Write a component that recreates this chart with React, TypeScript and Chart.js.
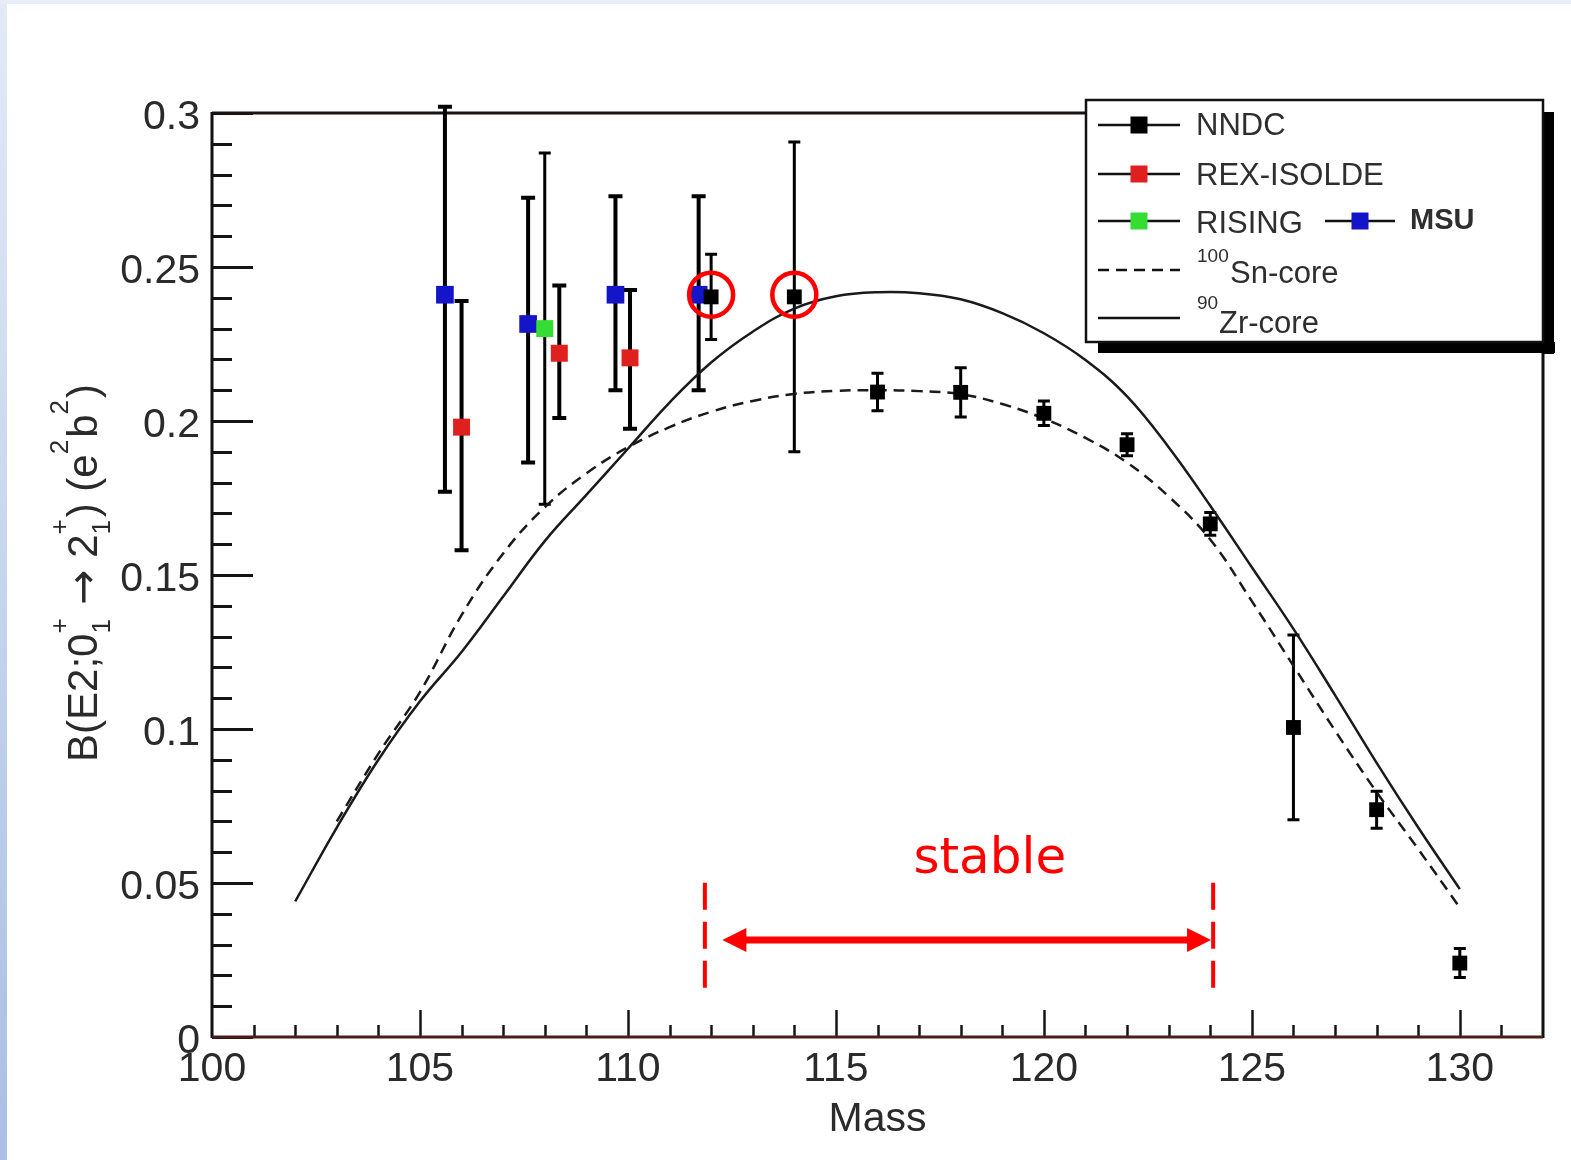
import React, { useEffect, useRef } from 'react';
import { Chart, registerables } from 'chart.js';

Chart.register(...registerables);

const FONT = '"Liberation Sans", Arial, Helvetica, sans-serif';

// ---- axes ----
const xTicks = [100, 105, 110, 115, 120, 125, 130];
const yTicks = [0, 0.05, 0.1, 0.15, 0.2, 0.25, 0.3];
const xMin = 100;
const xMax = 132;
const yMin = 0;
const yMax = 0.3;
const xMinorStep = 1;
const yMinorStep = 0.01;

// ---- NNDC ----
const nndcMass = [112, 114, 116, 118, 120, 122, 124, 126, 128, 130];
const nndcB = [0.2403, 0.2403, 0.2094, 0.2093, 0.2025, 0.1923, 0.1666, 0.1005, 0.0738, 0.024];
const nndcErr = [0.0138, 0.0503, 0.0061, 0.008, 0.004, 0.0036, 0.0037, 0.03, 0.006, 0.0047];

// ---- REX-ISOLDE ----
const rexMass = [106.0, 108.35, 110.05];
const rexB = [0.198, 0.222, 0.2205];
const rexErrPlus = [0.041, 0.022, 0.022];
const rexErrMinus = [0.04, 0.021, 0.023];

// ---- RISING ----
const risingMass = [108.0];
const risingB = [0.23];
const risingErrPlus = [0.057];
const risingErrMinus = [0.057];

// ---- MSU ----
const msuMass = [105.6, 107.6, 109.7, 111.7];
const msuB = [0.241, 0.2315, 0.241, 0.241];
const msuErrPlus = [0.061, 0.041, 0.032, 0.032];
const msuErrMinus = [0.064, 0.045, 0.031, 0.031];

// ---- 90Zr-core calculation (solid) ----
const zrMass = [102, 103, 104, 105, 106, 107, 108, 109, 110, 111, 112, 113, 114, 115, 116, 117, 118, 119, 120, 121, 122, 123, 124, 125, 126, 127, 128, 129, 130];
const zrCore = [0.044, 0.068, 0.09, 0.109, 0.125, 0.143, 0.161, 0.176, 0.191, 0.206, 0.219, 0.229, 0.2365, 0.2405, 0.2418, 0.2415, 0.2395, 0.235, 0.2285, 0.2198, 0.208, 0.1915, 0.1725, 0.1525, 0.1325, 0.111, 0.089, 0.068, 0.048];

// ---- 100Sn-core calculation (dashed) ----
const snMass = [103, 104, 105, 106, 107, 108, 109, 110, 111, 112, 113, 114, 115, 116, 117, 118, 119, 120, 121, 122, 123, 124, 125, 126, 127, 128, 129, 130];
const snCore = [0.07, 0.092, 0.112, 0.137, 0.157, 0.172, 0.183, 0.1915, 0.198, 0.203, 0.2065, 0.2088, 0.2098, 0.21, 0.2097, 0.2087, 0.2055, 0.2008, 0.1945, 0.1865, 0.1755, 0.1615, 0.1415, 0.1205, 0.0995, 0.0795, 0.061, 0.042];

// ---- annotations ----
const circleMass = [112, 114];
const circleB = [0.241, 0.241];
const stableEdges = [111.85, 124.07];
const stableEdgeB = [0.016, 0.051];
const arrowMass = [112.27, 124.02];
const arrowB = 0.0315;
const stableLabel = 'stable';
const stableLabelPos = [118.7, 0.0575];

const pts = (xs: number[], ys: number[]) => xs.map((x, i) => ({ x, y: ys[i] }));

function drawScriptText(ctx: CanvasRenderingContext2D, parts: any[], size: number, measureOnly: boolean, x0: number, y0: number) {
  const small = `${Math.round(size * 0.62)}px ${FONT}`;
  let x = x0;
  for (const p of parts) {
    if (p.t !== undefined) {
      ctx.font = `${size}px ${p.f ? p.f : FONT}`;
      if (!measureOnly) ctx.fillText(p.t, x, y0);
      x += ctx.measureText(p.t).width;
    } else {
      ctx.font = small;
      let w = 0;
      if (p.sup) {
        if (!measureOnly) ctx.fillText(p.sup, x, y0 - size * 0.7);
        w = Math.max(w, ctx.measureText(p.sup).width);
      }
      if (p.sub) {
        if (!measureOnly) ctx.fillText(p.sub, x, y0 + size * 0.3);
        w = Math.max(w, ctx.measureText(p.sub).width);
      }
      x += w + 2;
    }
  }
  return x - x0;
}

const yTitleParts = [
  { t: 'B(E2;0' }, { sub: '1', sup: '+' }, { t: ' ' }, { t: '\u2192', f: '"DejaVu Sans", sans-serif' }, { t: ' 2' }, { sub: '1', sup: '+' },
  { t: ') (e' }, { sup: '2' }, { t: 'b' }, { sup: '2' }, { t: ')' },
];

const rootPlugin = {
  id: 'rootStyle',
  beforeDatasetsDraw(chart: any) {
    const { ctx, chartArea: a, scales } = chart;
    const xs = scales.x;
    const ys = scales.y;
    ctx.save();
    // minor/major ticks on the left axis (pointing inward)
    ctx.strokeStyle = '#141414';
    ctx.lineWidth = 3;
    const nY = Math.round((yMax - yMin) / yMinorStep);
    for (let k = 0; k <= nY; k++) {
      const py = Math.round(ys.getPixelForValue(yMin + k * yMinorStep)) + 0.5;
      const len = k % 5 === 0 ? 41 : 20;
      ctx.beginPath(); ctx.moveTo(a.left, py); ctx.lineTo(a.left + len, py); ctx.stroke();
    }
    // ticks on the bottom axis
    ctx.lineWidth = 2.5;
    for (let m = xMin + xMinorStep; m < xMax; m += xMinorStep) {
      const px = Math.round(xs.getPixelForValue(m)) + 0.5;
      const len = m % 5 === 0 ? 27 : 12;
      ctx.beginPath(); ctx.moveTo(px, a.bottom); ctx.lineTo(px, a.bottom - len); ctx.stroke();
    }
    // frame
    ctx.lineWidth = 3;
    ctx.strokeStyle = '#1c1212';
    ctx.beginPath(); ctx.moveTo(a.left, a.top); ctx.lineTo(a.right, a.top); ctx.stroke();
    ctx.strokeStyle = '#111';
    ctx.beginPath(); ctx.moveTo(a.left, a.top - 1); ctx.lineTo(a.left, a.bottom + 1); ctx.stroke();
    ctx.beginPath(); ctx.moveTo(a.right, a.top - 1); ctx.lineTo(a.right, a.bottom + 1); ctx.stroke();
    ctx.strokeStyle = '#4a1c1c';
    ctx.beginPath(); ctx.moveTo(a.left, a.bottom); ctx.lineTo(a.right, a.bottom); ctx.stroke();

    // error bars
    chart.data.datasets.forEach((ds: any) => {
      if (!ds.errPlus) return;
      ctx.strokeStyle = '#000';
      ctx.lineWidth = ds.errWidth;
      ds.data.forEach((p: any, i: number) => {
        const px = xs.getPixelForValue(p.x);
        const top = ys.getPixelForValue(p.y + ds.errPlus[i]);
        const bot = ys.getPixelForValue(p.y - ds.errMinus[i]);
        ctx.beginPath();
        ctx.moveTo(px, top); ctx.lineTo(px, bot);
        ctx.moveTo(px - ds.capHalf, top); ctx.lineTo(px + ds.capHalf, top);
        ctx.moveTo(px - ds.capHalf, bot); ctx.lineTo(px + ds.capHalf, bot);
        ctx.stroke();
      });
    });
    ctx.restore();
  },
  afterDraw(chart: any) {
    const { ctx, scales } = chart;
    const xs = scales.x;
    const ys = scales.y;
    ctx.save();

    // double arrow
    const ay = ys.getPixelForValue(arrowB);
    const ax0 = xs.getPixelForValue(arrowMass[0]);
    const ax1 = xs.getPixelForValue(arrowMass[1]);
    const hl = 24, hw = 12;
    ctx.strokeStyle = '#ff0000';
    ctx.fillStyle = '#ff0000';
    ctx.lineWidth = 7;
    ctx.beginPath(); ctx.moveTo(ax0 + hl - 2, ay); ctx.lineTo(ax1 - hl + 2, ay); ctx.stroke();
    ctx.beginPath(); ctx.moveTo(ax0, ay); ctx.lineTo(ax0 + hl, ay - hw); ctx.lineTo(ax0 + hl, ay + hw); ctx.closePath(); ctx.fill();
    ctx.beginPath(); ctx.moveTo(ax1, ay); ctx.lineTo(ax1 - hl, ay - hw); ctx.lineTo(ax1 - hl, ay + hw); ctx.closePath(); ctx.fill();

    // "stable"
    ctx.font = '50px "DejaVu Sans", sans-serif';
    ctx.textAlign = 'center';
    ctx.textBaseline = 'middle';
    ctx.fillText(stableLabel, xs.getPixelForValue(stableLabelPos[0]), ys.getPixelForValue(stableLabelPos[1]));

    // y title (rotated, with sub/superscripts)
    ctx.fillStyle = '#2a2a2a';
    ctx.textAlign = 'left';
    ctx.textBaseline = 'alphabetic';
    const tSize = 42;
    const w = drawScriptText(ctx, yTitleParts, tSize, true, 0, 0);
    ctx.save();
    ctx.translate(97, 573);
    ctx.rotate(-Math.PI / 2);
    drawScriptText(ctx, yTitleParts, tSize, false, -w / 2, 0);
    ctx.restore();

    // legend
    const x0 = 1086, y0 = 100, x1 = 1543, y1 = 342;
    ctx.fillStyle = '#000';
    ctx.fillRect(x1, y0 + 12, 11, y1 - y0);
    ctx.fillRect(x0 + 12, y1, x1 - x0, 11);
    ctx.fillStyle = '#fff';
    ctx.fillRect(x0, y0, x1 - x0, y1 - y0);
    ctx.strokeStyle = '#111';
    ctx.lineWidth = 2.5;
    ctx.strokeRect(x0, y0, x1 - x0, y1 - y0);

    const ds = chart.data.datasets;
    const entry = (lx0: number, lx1: number, y: number, color: string | null, dash: number[]) => {
      ctx.strokeStyle = '#111';
      ctx.lineWidth = 2.5;
      ctx.setLineDash(dash);
      ctx.beginPath(); ctx.moveTo(lx0, y); ctx.lineTo(lx1, y); ctx.stroke();
      ctx.setLineDash([]);
      if (color) {
        ctx.fillStyle = color;
        const c = (lx0 + lx1) / 2;
        ctx.fillRect(c - 8.5, y - 8.5, 17, 17);
      }
    };
    const rows = [125, 174, 221, 270, 318];
    entry(1098, 1180, rows[0], ds[1].pointBackgroundColor, []);
    entry(1098, 1180, rows[1], ds[2].pointBackgroundColor, []);
    entry(1098, 1180, rows[2], ds[3].pointBackgroundColor, []);
    entry(1325, 1395, rows[2], ds[4].pointBackgroundColor, []);
    entry(1098, 1180, rows[3], null, [11, 7]);
    entry(1098, 1180, rows[4], null, []);

    ctx.fillStyle = '#2e2e2e';
    ctx.textAlign = 'left';
    ctx.textBaseline = 'middle';
    ctx.font = `31px ${FONT}`;
    ctx.fillText(ds[1].label, 1196, rows[0] + 1);
    ctx.fillText(ds[2].label, 1196, rows[1] + 2);
    ctx.fillText(ds[3].label, 1196, rows[2] + 3);
    ctx.font = `bold 29px ${FONT}`;
    ctx.fillText(ds[4].label, 1410, rows[2]);
    ctx.textBaseline = 'alphabetic';
    ctx.font = `19px ${FONT}`;
    ctx.fillText('100', 1197, 262);
    ctx.fillText('90', 1197, 309);
    ctx.font = `31px ${FONT}`;
    ctx.fillText('Sn-core', 1230, 283);
    ctx.fillText('Zr-core', 1219, 333);

    ctx.restore();
  },
};

export default function App() {
  const ref = useRef<HTMLCanvasElement>(null);
  useEffect(() => {
    const canvas = ref.current!;
    const datasets: any[] = [
      {
        label: 'circles', data: pts(circleMass, circleB), showLine: false,
        pointStyle: 'circle', pointRadius: 22, pointBorderWidth: 4.5,
        pointBorderColor: '#ff0000', pointBackgroundColor: 'rgba(0,0,0,0)',
      },
      {
        label: 'NNDC', data: pts(nndcMass, nndcB), showLine: false,
        pointStyle: 'rect', pointRadius: 10.5, pointBorderWidth: 0,
        pointBackgroundColor: '#000000', errPlus: nndcErr, errMinus: nndcErr, errWidth: 3, capHalf: 6,
      },
      {
        label: 'REX-ISOLDE', data: pts(rexMass, rexB), showLine: false,
        pointStyle: 'rect', pointRadius: 12, pointBorderWidth: 0,
        pointBackgroundColor: '#e0201e', errPlus: rexErrPlus, errMinus: rexErrMinus, errWidth: 4, capHalf: 7,
      },
      {
        label: 'RISING', data: pts(risingMass, risingB), showLine: false,
        pointStyle: 'rect', pointRadius: 12, pointBorderWidth: 0,
        pointBackgroundColor: '#34dc34', errPlus: risingErrPlus, errMinus: risingErrMinus, errWidth: 3, capHalf: 6,
      },
      {
        label: 'MSU', data: pts(msuMass, msuB), showLine: false,
        pointStyle: 'rect', pointRadius: 12.5, pointBorderWidth: 0,
        pointBackgroundColor: '#1414c8', errPlus: msuErrPlus, errMinus: msuErrMinus, errWidth: 4, capHalf: 7,
      },
      {
        label: 'edgeL', data: stableEdgeB.map((y) => ({ x: stableEdges[0], y })), showLine: true,
        borderColor: '#ff0000', borderWidth: 4, borderDash: [27, 12], pointRadius: 0, fill: false,
      },
      {
        label: 'edgeR', data: stableEdgeB.map((y) => ({ x: stableEdges[1], y })), showLine: true,
        borderColor: '#ff0000', borderWidth: 4, borderDash: [27, 12], pointRadius: 0, fill: false,
      },
      {
        label: '90Zr-core', data: pts(zrMass, zrCore), showLine: true,
        borderColor: '#1a1a1a', borderWidth: 2.5, pointRadius: 0, fill: false,
        tension: 0.4,
      },
      {
        label: '100Sn-core', data: pts(snMass, snCore), showLine: true,
        borderColor: '#1a1a1a', borderWidth: 2.5, borderDash: [11, 7], pointRadius: 0, fill: false,
        tension: 0.4,
      },
    ];
    const chart = new Chart(canvas, {
      type: 'scatter',
      data: { datasets },
      options: {
        responsive: false,
        animation: false,
        devicePixelRatio: 1,
        layout: { padding: { top: 113, right: 28, left: 0, bottom: 0 } },
        plugins: { legend: { display: false }, tooltip: { enabled: false } },
        scales: {
          x: {
            type: 'linear', min: xMin, max: xMax,
            grid: { display: false, drawTicks: false },
            border: { display: false },
            afterBuildTicks: (s: any) => { s.ticks = xTicks.map((v) => ({ value: v })); },
            afterFit: (s: any) => { s.height = 123; },
            ticks: {
              font: { family: FONT, size: 41 }, color: '#2a2a2a', padding: 8,
              maxRotation: 0, autoSkip: false, callback: (v: any) => String(v),
            },
            title: {
              display: true, text: 'Mass', font: { family: FONT, size: 41 }, color: '#2a2a2a',
              padding: { top: 0, bottom: 16 },
            },
          },
          y: {
            type: 'linear', min: yMin, max: yMax,
            grid: { display: false, drawTicks: false },
            border: { display: false },
            afterBuildTicks: (s: any) => { s.ticks = yTicks.map((v) => ({ value: v })); },
            afterFit: (s: any) => { s.width = 212; },
            ticks: {
              font: { family: FONT, size: 41 }, color: '#2a2a2a', padding: 12, labelOffset: 5,
              autoSkip: false, callback: (v: any) => String(v),
            },
          },
        },
      } as any,
      plugins: [rootPlugin as any],
    });
    return () => chart.destroy();
  }, []);

  return (
    <div style={{ position: 'absolute', left: 0, top: 0, width: 1571, height: 1160, background: '#ffffff', overflow: 'hidden' }}>
      <div style={{ position: 'absolute', left: 0, top: 0, width: 7, height: 1160, background: 'linear-gradient(#e3eaf6, #a9bfe4)' }} />
      <div style={{ position: 'absolute', left: 0, top: 0, width: 1571, height: 4, background: '#e6edf7' }} />
      <canvas ref={ref} width={1571} height={1160} style={{ position: 'absolute', left: 0, top: 0 }} />
    </div>
  );
}
